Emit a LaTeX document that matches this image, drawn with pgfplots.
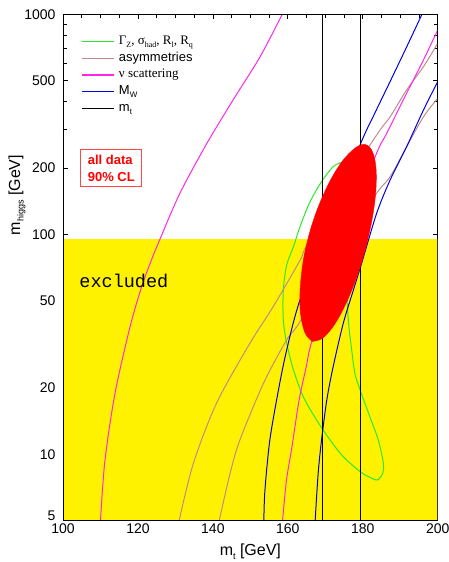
\documentclass[border=0pt]{standalone}
\usepackage{fontspec}
\setmainfont{Liberation Sans}
\newfontfamily\serifrm{Liberation Serif}
\newfontfamily\courier{Liberation Mono}
\usepackage{pgfplots}
\pgfplotsset{compat=1.18}

\definecolor{zgreen}{RGB}{40,235,40}
\definecolor{asymcol}{RGB}{190,140,140}
\definecolor{nucol}{RGB}{255,40,230}
\definecolor{mwblue}{RGB}{0,0,225}
\definecolor{boxred}{RGB}{255,70,70}

% small lowered subscripts
\newcommand{\lsub}[1]{\raisebox{-3.5pt}{\fontsize{9}{9}\selectfont #1}}
\newcommand{\ssub}[1]{\raisebox{-3pt}{\fontsize{8}{8}\selectfont #1}}

\begin{document}
\begin{tikzpicture}
\begin{axis}[
  scale only axis, width=374.7pt, height=506.2pt,
  xmin=100, xmax=200, ymin=5, ymax=1000, ymode=log,
  xtick={100,120,140,160,180,200},
  xticklabels={100,120,140,160,180,200},
  minor xtick={105,110,115,125,130,135,145,150,155,165,170,175,185,190,195},
  ytick={5,10,20,50,100,200,500,1000},
  yticklabels={\raisebox{-0.5pt}[0pt][0pt]{5},10,20,50,100,200,500,1000},
  minor ytick={6,7,8,9,30,40,60,70,80,90,300,400,600,700,800,900},
  tick align=inside,
  major tick length=5pt, minor tick length=4pt,
  tick style={black, line width=0.7pt},
  axis line style={line width=0.9pt},
  ticklabel style={font=\fontsize{14}{16}\selectfont},
  yticklabel style={xshift=-4pt},
  xlabel={m\lsub{t} [GeV]},
  ylabel={m\lsub{higgs} [GeV]},
  label style={font=\fontsize{16}{18}\selectfont},
  xlabel style={at={(rel axis cs:0.5,0)}, anchor=center, yshift=-31pt},
  ylabel style={at={([xshift=-46pt]rel axis cs:0,0.643)}, anchor=center},
  legend style={draw=none, fill=none, at={(rel axis cs:0.05,0.9625)},
    anchor=north west, inner sep=0pt, row sep=0pt, column sep=3pt,
    font=\fontsize{13}{15}\selectfont,
    nodes={inner sep=1.3pt, text height=10pt, text depth=4pt}},
  legend cell align=left,
  legend image code/.code={\draw[#1, line width=1.1pt] (0pt,0pt) -- (31.6pt,0pt);},
  every axis plot/.append style={line width=1pt},
]
\coordinate (A) at (rel axis cs:0,0);
\coordinate (B) at (rel axis cs:1,1);

% excluded region
\addplot[fill=yellow, draw=none, forget plot] coordinates {(100,5) (200,5) (200,95) (100,95) (100,5)};

% Gamma_Z, sigma_had, R_l, R_q contour
\addplot[zgreen, smooth, tension=0.5] coordinates {
(177.9,222) (174.8,213.7) (172.1,202.9) (169.0,173.4) (165.9,140.2) (163.25,108.3)
(161.5,87.8) (159.7,72.5) (158.8,55.8) (158.8,40.8) (159.7,32.0) (161.5,24.2)
(164.1,18.3) (167.7,14.3) (171.3,11.6) (174.8,9.75) (179.3,8.33) (181.9,7.86)
(183.9,7.64) (185.3,8.19) (185.5,9.10) (184.15,11.6) (181.9,14.8) (179.3,19.6)
(177.9,23.3) (177.05,29.8) (176.4,36.7) (175.9,46.9) (175.7,59.9) (176.1,94.2)
(177.1,143) (177.9,222)};
\addlegendentry{{\serifrm Γ\ssub{Z}, σ\ssub{had}, R\ssub{l}, R\ssub{q}}}

% asymmetries
\addplot[asymcol, smooth, tension=0.5] coordinates {
(131.0,5) (134.8,9.1) (141.0,17.1) (149.9,32.0) (156.1,46.9) (163.3,76.4)
(165.9,94.2) (182.8,268) (187.3,342) (191.7,453) (196.2,578) (200,738)};
\addlegendentry{asymmetries}
\addplot[asymcol, smooth, tension=0.5, forget plot] coordinates {
(141.7,5) (144.6,8.2) (147.2,11.6) (153.5,21.0) (159.7,33.1) (164.1,42.2)
(181.9,138.3) (187.3,182.7) (191.7,250) (196.2,342) (200,415)};

% neutrino scattering
\addplot[nucol, smooth, tension=0.5] coordinates {
(110.0,5) (111.2,9.4) (113.9,19.0) (117.9,38.0) (121.0,57.8) (123.6,76.4)
(125.9,95.2) (131.2,153.6) (138.4,259) (145.4,408) (152.6,641) (158.5,1000)};
\addlegendentry{{\serifrm ν scattering}}
\addplot[nucol, smooth, tension=0.5, forget plot] coordinates {
(158.6,5) (159.65,7.64) (161.1,10.8) (163.0,17.6) (164.9,24.9) (166.5,33.1)
(173.9,84.8) (183.3,225) (186.4,288) (191.7,437) (196.2,620) (200,848)};

% W mass
\addplot[mwblue, smooth, tension=0.5] coordinates {
(153.6,5) (153.9,6.9) (155.2,11.6) (157.5,19.6) (159.7,29.8) (163.25,50.3)
(171.3,116) (179.5,260) (183.0,349) (187.5,503) (191.7,710) (195.8,1000)};
\addlegendentry{M\ssub{W}}
\addplot[mwblue, smooth, tension=0.5, forget plot] coordinates {
(167.3,5) (168.1,8.2) (169.0,11.6) (170.4,17.65) (172.1,25.0) (174.8,39.4)
(177.5,55.8) (179.7,73.8) (183.7,124.5) (187.3,176.4) (191.7,250) (196.2,367) (200,494)};

% top mass band
\addplot[black] coordinates {(169.2,5) (169.2,1000)};
\addlegendentry{m\ssub{t}}
\addplot[black, forget plot] coordinates {(179.4,5) (179.4,1000)};

% combined 90% CL region
\addplot[fill=red, draw=red, line width=0.4pt, smooth, tension=0.6, forget plot] coordinates {
(166.55,32.6) (164.60,35.6) (163.38,43.9) (163.33,57.6) (164.45,81.4) (166.85,116.1)
(170.32,162.3) (174.19,210.9) (177.95,246.5) (180.76,255.7) (182.72,234.3) (183.59,191.7)
(183.26,143.3) (181.76,101.5) (179.30,71.0) (176.15,51.2) (172.70,39.5) (169.37,33.8)
(166.55,32.6)};

\node[anchor=west, font=\courier\fontsize{18.5}{20}\selectfont, inner sep=0pt]
  at (axis cs:104.35,61.3) {excluded};
\node[draw=boxred, line width=1pt, text=red, font=\bfseries\fontsize{13}{17}\selectfont,
  align=left, minimum width=61pt, minimum height=37pt, inner sep=3pt]
  at (axis cs:112.9,200) {all data\\90\% CL};

\draw[line width=0.9pt] (rel axis cs:0,0) rectangle (rel axis cs:1,1);
\end{axis}
\pgfresetboundingbox
\path[use as bounding box] ([shift={(-63pt,-41.5pt)}]A) rectangle ([shift={(10.3pt,14.3pt)}]B);
\end{tikzpicture}
\end{document}
